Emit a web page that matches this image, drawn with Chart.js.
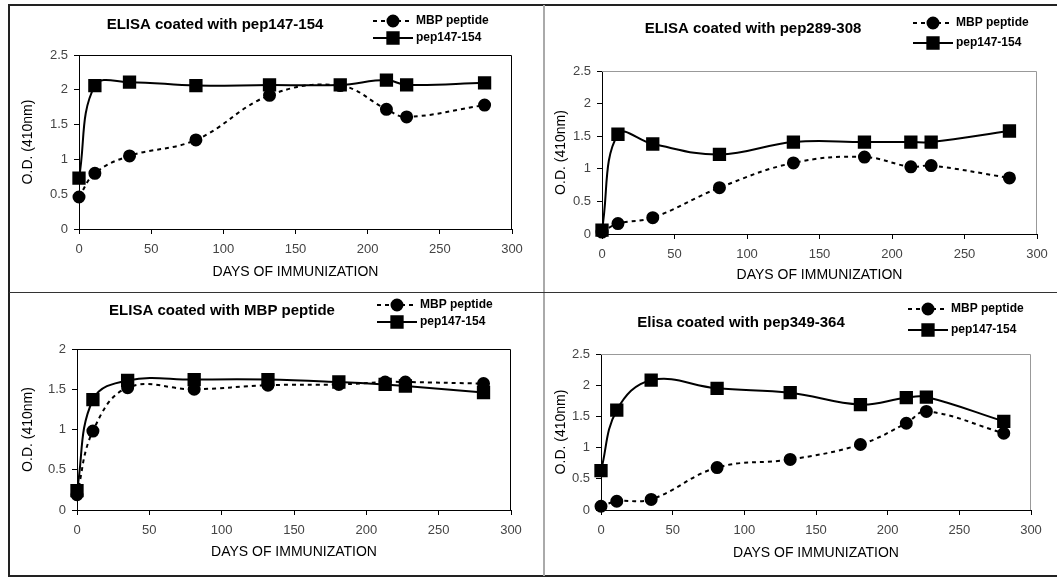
<!DOCTYPE html>
<html>
<head>
<meta charset="utf-8">
<script src="https://cdn.jsdelivr.net/npm/chart.js@4.4.1/dist/chart.umd.min.js"></script>
<style>
    body { margin: 0; background: #fff; width: 1057px; height: 577px; overflow: hidden; position: relative; }
    #frame { position: absolute; left: 8px; top: 4px; width: 1070px; height: 573px; box-sizing: border-box; border: 2px solid #222; border-right: none; }
    .vline { position: absolute; left: 543px; top: 5px; width: 2px; height: 571px; background: #aaa; }
    .hline { position: absolute; left: 9px; top: 292px; width: 1048px; height: 1px; background: #333; }
    .panel { position: absolute; }
</style>
</head>
<body>
<div id="frame"></div>
<div class="vline"></div>
<div class="hline"></div>
<div class="panel" id="p-a"><canvas id="chart-a"></canvas></div>
<div class="panel" id="p-b"><canvas id="chart-b"></canvas></div>
<div class="panel" id="p-c"><canvas id="chart-c"></canvas></div>
<div class="panel" id="p-d"><canvas id="chart-d"></canvas></div>
<script>
// Data
const days = [0, 11, 35, 81, 132, 181, 213, 227, 281];
const dayTicks = [0, 50, 100, 150, 200, 250, 300];
const odTicks25 = [0, 0.5, 1, 1.5, 2, 2.5];
const odTicks20 = [0, 0.5, 1, 1.5, 2];
const seriesNames = ['MBP peptide', 'pep147-154'];

const mbpA = [0.46, 0.80, 1.05, 1.28, 1.92, 2.06, 1.72, 1.61, 1.78];
const pepA = [0.73, 2.06, 2.11, 2.06, 2.07, 2.07, 2.14, 2.07, 2.10];
const mbpB = [0.03, 0.16, 0.25, 0.71, 1.09, 1.18, 1.03, 1.05, 0.86];
const pepB = [0.06, 1.53, 1.38, 1.22, 1.41, 1.41, 1.41, 1.41, 1.58];
const mbpC = [0.19, 0.98, 1.52, 1.50, 1.55, 1.56, 1.59, 1.59, 1.57];
const pepC = [0.24, 1.37, 1.61, 1.62, 1.62, 1.59, 1.56, 1.54, 1.46];
const mbpD = [0.06, 0.14, 0.17, 0.68, 0.81, 1.05, 1.39, 1.58, 1.23];
const pepD = [0.63, 1.60, 2.08, 1.95, 1.88, 1.69, 1.80, 1.81, 1.42];

const FONT = '"Liberation Sans", Arial, sans-serif';

// draws plot frame, title and the little legend
const decor = {
    id: 'decor',
    afterDraw(chart, args, o) {
        const ctx = chart.ctx;
        const a = chart.chartArea;
        ctx.save();
        ctx.strokeStyle = o.boxColor;
        ctx.lineWidth = 1;
        ctx.beginPath();
        ctx.moveTo(a.left, a.top + 0.5);
        ctx.lineTo(a.right - 0.5, a.top + 0.5);
        ctx.lineTo(a.right - 0.5, a.bottom);
        ctx.stroke();

        ctx.fillStyle = '#000';
        ctx.font = 'bold 15px ' + FONT;
        ctx.textAlign = 'center';
        ctx.textBaseline = 'middle';
        ctx.fillText(o.title, o.titleX, o.titleY);

        ctx.font = 'bold 12px ' + FONT;
        ctx.textAlign = 'left';
        chart.data.datasets.forEach((ds, i) => {
            const y = o.legY[i];
            ctx.strokeStyle = '#000';
            ctx.lineWidth = 2;
            ctx.setLineDash(ds.borderDash || []);
            ctx.beginPath();
            ctx.moveTo(o.legX, y);
            ctx.lineTo(o.legX + 40, y);
            ctx.stroke();
            ctx.setLineDash([]);
            Chart.helpers.drawPoint(ctx, { pointStyle: ds.pointStyle, radius: ds.pointRadius, rotation: 0, borderWidth: 1 }, o.legX + 20, y);
            ctx.fill();
            ctx.fillText(ds.label, o.legX + 43, y);
        });
        ctx.restore();
    }
};

function makeChart(id, box, mbp, pep, yTicks, deco, lay) {
    const wrap = document.getElementById('p-' + id);
    wrap.style.left = box.x + 'px';
    wrap.style.top = box.y + 'px';
    wrap.style.width = box.w + 'px';
    wrap.style.height = box.h + 'px';

    new Chart(document.getElementById('chart-' + id), {
        type: 'line',
        data: {
            datasets: [
                {
                    label: seriesNames[0],
                    data: days.map((d, i) => ({ x: d, y: mbp[i] })),
                    borderColor: '#000', backgroundColor: '#000', borderWidth: 2,
                    borderDash: [4, 4], pointStyle: 'circle', pointRadius: 5.5,
                    tension: 0.4, clip: false,
                },
                {
                    label: seriesNames[1],
                    data: days.map((d, i) => ({ x: d, y: pep[i] })),
                    borderColor: '#000', backgroundColor: '#000', borderWidth: 2,
                    pointStyle: 'rect', pointRadius: 8,
                    tension: 0.4, clip: false,
                }
            ]
        },
        options: {
            responsive: true,
            maintainAspectRatio: false,
            animation: false,
            layout: { padding: { left: 0, top: lay.top, right: lay.right, bottom: 0 } },
            plugins: {
                legend: { display: false },
                tooltip: { enabled: false },
                decor: {
                    boxColor: deco.boxColor,
                    title: deco.title,
                    titleX: deco.titleX - box.x, titleY: deco.titleY - box.y,
                    legX: deco.legX - box.x,
                    legY: deco.legY.map(v => v - box.y),
                }
            },
            scales: {
                x: {
                    type: 'linear', min: 0, max: 300,
                    afterBuildTicks: s => { s.ticks = dayTicks.map(v => ({ value: v })); },
                    afterFit: s => { s.height = lay.xH; },
                    border: { color: '#000', width: 1 },
                    grid: { drawOnChartArea: false, tickLength: 5, color: '#000' },
                    ticks: { color: '#444', font: { family: FONT, size: 13 }, padding: 8, maxRotation: 0, autoSkip: false, callback: v => String(v) },
                    title: { display: true, text: 'DAYS OF IMMUNIZATION', color: '#000', font: { family: FONT, size: 14 }, padding: { top: 0, bottom: lay.xPad } }
                },
                y: {
                    min: 0, max: yTicks[yTicks.length - 1],
                    afterBuildTicks: s => { s.ticks = yTicks.map(v => ({ value: v })); },
                    afterFit: s => { s.width = lay.yW; },
                    border: { color: '#000', width: 1 },
                    grid: { drawOnChartArea: false, tickLength: 5, color: '#000' },
                    ticks: { color: '#444', font: { family: FONT, size: 13 }, padding: 6, callback: v => String(v) },
                    title: { display: true, text: 'O.D. (410nm)', color: '#000', font: { family: FONT, size: 14 }, padding: { top: lay.yPad, bottom: 0 } }
                }
            }
        },
        plugins: [decor]
    });
}

makeChart('a', { x: 10, y: 6, w: 533, h: 286 }, mbpA, pepA, odTicks25,
    { boxColor: '#000', title: 'ELISA coated with pep147-154', titleX: 215, titleY: 25, legX: 373, legY: [21, 38] },
    { top: 49, right: 31, xH: 63, xPad: 11, yW: 69, yPad: 10 });

makeChart('b', { x: 545, y: 6, w: 512, h: 286 }, mbpB, pepB, odTicks25,
    { boxColor: '#999', title: 'ELISA coated with pep289-308', titleX: 753, titleY: 29, legX: 913, legY: [23, 43] },
    { top: 65, right: 20, xH: 58, xPad: 8, yW: 57, yPad: 8 });

makeChart('c', { x: 10, y: 293, w: 533, h: 283 }, mbpC, pepC, odTicks20,
    { boxColor: '#000', title: 'ELISA coated with MBP peptide', titleX: 222, titleY: 311, legX: 377, legY: [305, 322] },
    { top: 56, right: 32, xH: 66, xPad: 15, yW: 67, yPad: 10 });

makeChart('d', { x: 545, y: 293, w: 512, h: 283 }, mbpD, pepD, odTicks25,
    { boxColor: '#999', title: 'Elisa coated with pep349-364', titleX: 741, titleY: 323, legX: 908, legY: [309, 330] },
    { top: 61, right: 26, xH: 66, xPad: 14, yW: 56, yPad: 8 });
</script>
</body>
</html>
